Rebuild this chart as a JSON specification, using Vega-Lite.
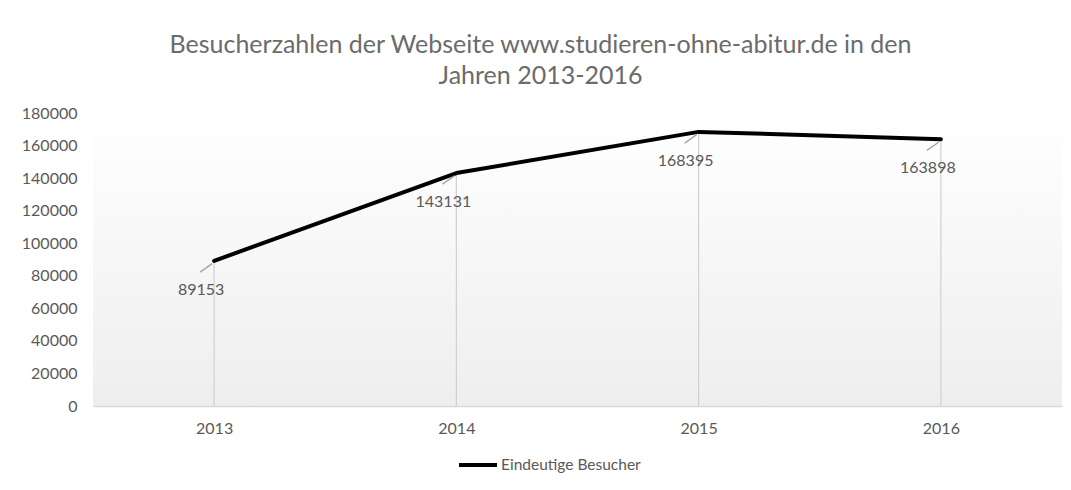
{
  "$schema": "https://vega.github.io/schema/vega-lite/v6.json",
  "width": 969,
  "height": 293,
  "autosize": "none",
  "padding": {"left": 93, "top": 113, "right": 9, "bottom": 84},
  "background": "white",
  "title": {
    "text": ["Besucherzahlen der Webseite www.studieren-ohne-abitur.de in den", "Jahren 2013-2016"],
    "font": "Lato",
    "fontSize": 25,
    "fontWeight": "normal",
    "color": "#6b6b6b",
    "lineHeight": 31,
    "dx": -37,
    "offset": 16
  },
  "data": {
    "values": [
      {"year": "2013", "visitors": 89153, "series": "Eindeutige Besucher"},
      {"year": "2014", "visitors": 143131, "series": "Eindeutige Besucher"},
      {"year": "2015", "visitors": 168395, "series": "Eindeutige Besucher"},
      {"year": "2016", "visitors": 163898, "series": "Eindeutige Besucher"}
    ]
  },
  "encoding": {
    "x": {
      "field": "year",
      "type": "ordinal",
      "scale": {"type": "point", "padding": 0.5},
      "axis": {
        "title": null,
        "labelAngle": 0,
        "ticks": false,
        "domainColor": "#d9d9d9",
        "domainWidth": 1.5,
        "labelFont": "Lato",
        "labelFontSize": 16,
        "labelColor": "#595959",
        "labelPadding": 14,
        "grid": false
      }
    },
    "y": {
      "field": "visitors",
      "type": "quantitative",
      "scale": {"domain": [0, 180000], "nice": false},
      "axis": {
        "title": null,
        "values": [0, 20000, 40000, 60000, 80000, 100000, 120000, 140000, 160000, 180000],
        "format": "d",
        "ticks": false,
        "domain": false,
        "grid": false,
        "labelFont": "Lato",
        "labelFontSize": 16,
        "labelColor": "#595959",
        "labelPadding": 16
      }
    }
  },
  "layer": [
    {
      "mark": {"type": "rule", "color": "#d0d0d0", "strokeWidth": 1.2},
      "encoding": {"y": {"datum": 0}, "y2": {"field": "visitors"}}
    },
    {
      "mark": {"type": "line", "strokeWidth": 4, "strokeCap": "round", "strokeJoin": "round"},
      "encoding": {
        "color": {
          "field": "series",
          "type": "nominal",
          "scale": {"range": ["#000000"]},
          "legend": {
            "title": null,
            "orient": "none",
            "legendX": 364,
            "legendY": 331,
            "symbolType": "stroke",
            "symbolSize": 1444,
            "symbolStrokeWidth": 4,
            "labelFont": "Lato",
            "labelFontSize": 15.5,
            "labelColor": "#595959",
            "labelOffset": 2
          }
        }
      }
    },
    {
      "mark": {
        "type": "point",
        "shape": "M-1,0.7L1,-0.7",
        "size": 144,
        "filled": false,
        "stroke": "#a6a6a6",
        "strokeWidth": 1.5,
        "opacity": 1,
        "xOffset": -8,
        "yOffset": 7
      }
    },
    {
      "mark": {
        "type": "text",
        "dx": -13,
        "dy": 29,
        "font": "Lato",
        "fontSize": 16,
        "color": "#595959"
      },
      "encoding": {"text": {"field": "visitors", "type": "quantitative", "format": "d"}}
    }
  ],
  "config": {
    "view": {
      "stroke": null,
      "fill": {
        "gradient": "linear",
        "x1": 0, "y1": 0, "x2": 0, "y2": 1,
        "stops": [
          {"offset": 0, "color": "#ffffff"},
          {"offset": 1, "color": "#eeeeee"}
        ]
      }
    }
  }
}
